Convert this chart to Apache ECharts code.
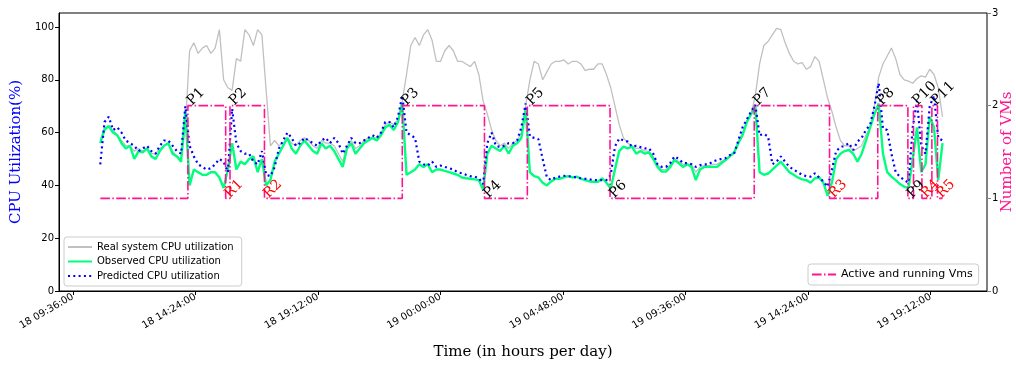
<!DOCTYPE html>
<html>
<head>
<meta charset="utf-8">
<script src="https://cdn.jsdelivr.net/npm/echarts@6/dist/echarts.min.js"></script>
<style>html,body{margin:0;padding:0;background:#fff}#chart{width:1016px;height:365px}</style>
</head>
<body>
<div id="chart"></div>
<script>
// samples every 10 minutes, starting 18th 10:40 (x axis is hours since 18th 00:00)
var start_hour = 10 + 40 / 60;
var step_hour = 10 / 60;

var real_cpu = [
	57, 62, 62, 61, 59, 57, 55, 55, 53, 54,
	53, 54, 52, 52, 54, 55, 56, 53, 51, 50,
	62, 91, 94, 90, 92, 93, 90, 92, 99, 80,
	77, 76, 88, 87, 99, 97, 93, 99, 97, 76,
	55, 57, 55, 56, 58, 56, 55, 57, 58, 57,
	55, 54, 57, 56, 56, 55, 52, 49, 55, 57,
	54, 55, 57, 58, 58, 58, 60, 63, 64, 63,
	65, 72, 82, 93, 96, 93, 97, 99, 95, 87,
	87, 91, 93, 91, 87, 87, 86, 85, 87, 82,
	72, 67, 61, 57, 55, 56, 54, 56, 57, 60,
	70, 80, 87, 86, 80, 83, 86, 87, 87, 87.5,
	86, 87, 87, 86, 83.5, 84, 84, 86, 86, 82,
	77, 70, 63, 58, 56, 55, 54, 54, 53, 53,
	51, 48, 46, 46, 48, 50, 49, 48, 48, 48,
	45, 47, 47.5, 47.5, 48, 48, 49, 50, 51, 52,
	56.5, 60, 64.5, 67, 74, 86, 93, 94.5, 97, 99.5,
	99, 94, 90, 87, 86, 86.5, 84, 85, 88.8, 87,
	80, 73, 68, 62, 57, 55, 55, 53, 54, 55,
	59, 62, 70, 81, 86, 89, 92, 88, 82, 80,
	79.5, 78.7, 80.5, 81.5, 81, 84, 82, 77, 66
];
var observed_cpu = [
	56, 61, 62.5, 60, 59, 56, 54, 55, 50, 53,
	52.5, 54, 51, 50, 53, 55, 56, 52, 51, 49,
	68, 40, 46, 45, 44, 44, 45, 45, 43, 39,
	46, 56, 46, 49, 48, 50, 51, 45, 50, 40,
	42, 49, 52, 55, 58, 54, 52, 55, 57, 55,
	53, 52, 56, 54, 55, 53, 50, 47, 54, 56,
	52, 54, 56, 57, 58, 57, 59, 62, 63, 61,
	64, 71, 44, 45, 46, 48, 47, 48, 45, 46,
	46, 45.5, 45, 44.5, 44, 43, 42.7, 42.5, 42.3, 42,
	38.3, 52, 55, 54, 53, 55, 52, 55, 56, 58,
	69, 45, 43.5, 43, 41, 40, 41.5, 42.5, 42.5, 43,
	43.5, 43, 43.3, 42.5, 42, 41.5, 41.4, 41.4, 42.7, 41,
	38.8, 46, 53, 54.7, 54, 54.7, 52, 53, 52, 52.5,
	50, 47, 45.2, 45.2, 47, 49.6, 48.4, 47, 48, 47,
	42, 46, 47, 47, 47, 47, 48.4, 49.6, 51, 52.5,
	56, 59, 64, 67, 70, 45, 44, 44.5, 46, 47.5,
	49, 47, 45, 44, 43, 42.3, 42, 41, 42.7, 43,
	41, 36, 41, 50, 52, 53, 53.4, 52, 49, 52,
	57, 62, 67, 71, 52, 45, 43.3, 42, 40.5, 39.5,
	39, 50, 62, 45, 48, 66, 62, 42, 56
];
var predicted_cpu = [
	48, 64, 66, 61, 62, 60, 57, 56, 55, 53,
	54, 55, 53, 52, 55, 57, 57, 55, 53, 52,
	70, 55, 51, 48, 47, 46, 46.5, 48, 50, 49,
	45, 69, 56, 53, 52, 52, 49, 48, 53, 44,
	43.5, 47, 54, 57, 60, 58, 55, 56, 58, 57,
	56, 55, 57, 58, 56, 58, 56, 52, 55, 58,
	56, 56, 57, 58, 59, 58, 60, 64, 64, 62,
	66, 74, 60, 59, 58, 49, 48, 47.5, 49, 47,
	47.5, 47, 46.5, 46, 45, 44.6, 44, 43.5, 43.3, 42.7,
	40.5, 56, 60, 55, 54.5, 55, 56, 56, 57, 62,
	71, 58.5, 58, 57.5, 50, 43, 42, 43, 43.3, 43.6,
	43.5, 43.3, 43, 42.7, 42.5, 42.3, 42, 42, 42, 42,
	44, 54.7, 57.8, 57, 56.6, 54.7, 55, 54.5, 54, 54,
	52, 48, 47, 47, 48.5, 51, 50, 48.5, 48.4, 48,
	47, 47.7, 48, 48, 49, 49.6, 50, 50.3, 51.5, 52,
	57, 62, 65, 68, 70.5, 59, 59.5, 58.5, 48, 49,
	51, 49, 47, 46, 45, 44, 43.5, 43.3, 44.6, 43,
	41.5, 39.5, 46, 53, 54.5, 55, 56, 53.4, 56.6, 58,
	61, 63, 70, 78.7, 61.5, 61, 52, 45, 43.3, 42,
	41, 62, 72, 55, 52, 70, 74, 58, 57
];

// active VMs: value holds from each time until the next one
var vm_times = [10.67, 14.10, 15.58, 15.75, 17.10, 22.50, 25.72, 27.40, 30.64, 36.29, 39.24, 41.13, 42.31, 42.53, 42.86, 43.25, 43.47, 43.67];
var vm_counts = [1, 2, 1, 2, 1, 2, 1, 2, 1, 2, 1, 2, 1, 2, 1, 2, 1, 1];

var mark_names = ['P1', 'R1', 'P2', 'R2', 'P3', 'P4', 'P5', 'P6', 'P7', 'R3', 'P8', 'P9', 'P10', 'R4', 'P11', 'R5'];
var mark_times = [14.10, 15.58, 15.75, 17.10, 22.50, 25.72, 27.40, 30.64, 36.29, 39.24, 41.13, 42.31, 42.53, 42.86, 43.25, 43.47];
var mark_levels = [2, 1, 2, 1, 2, 1, 2, 1, 2, 1, 2, 1, 2, 1, 2, 1];

var tick_hours = [9.6, 14.4, 19.2, 24, 28.8, 33.6, 38.4, 43.2];
var tick_labels = ['18 09:36:00', '18 14:24:00', '18 19:12:00', '19 00:00:00', '19 04:48:00', '19 09:36:00', '19 14:24:00', '19 19:12:00'];

function toPairs(values) {
	var out = [];
	for (var i = 0; i < values.length; i++) {
		out.push([start_hour + i * step_hour, values[i]]);
	}
	return out;
}

var vm_data = [];
for (var i = 0; i < vm_times.length; i++) {
	vm_data.push([vm_times[i], vm_counts[i]]);
}

var mark_data = [];
for (var i = 0; i < mark_names.length; i++) {
	var isR = mark_names[i].charAt(0) === 'R';
	mark_data.push({
		name: mark_names[i],
		coord: [mark_times[i], mark_levels[i]],
		label: { color: isR ? '#ff0000' : '#000000' }
	});
}

var serif = 'DejaVu Serif';
var sans = 'DejaVu Sans';
var noSymbol = { color: 'rgba(0,0,0,0)', borderWidth: 0, opacity: 0 };

var mycharts = echarts.init(document.getElementById('chart'));
var option = {
	animation: false,
	backgroundColor: '#fff',
	grid: {
		left: 59, right: 29, top: 13, bottom: 74,
		containLabel: false,
		outerBoundsMode: 'none',
		show: true, borderColor: '#000', borderWidth: 1
	},
	legend: [{
		orient: 'vertical',
		left: 64, top: 237,
		itemWidth: 24, itemHeight: 10, itemGap: 4.5,
		padding: [5, 8, 5, 3],
		borderColor: '#cccccc', borderWidth: 1, borderRadius: 3,
		backgroundColor: '#fff',
		itemStyle: noSymbol,
		textStyle: { fontFamily: sans, fontSize: 10, color: '#000' },
		data: ['Real system CPU utilization', 'Observed CPU utilization', 'Predicted CPU utilization']
	}, {
		orient: 'vertical',
		left: 808, top: 264,
		itemWidth: 24, itemHeight: 10,
		padding: [5, 6, 5, 3],
		borderColor: '#cccccc', borderWidth: 1, borderRadius: 3,
		backgroundColor: '#fff',
		itemStyle: noSymbol,
		textStyle: { fontFamily: sans, fontSize: 11, color: '#000' },
		data: ['Active and running Vms']
	}],
	xAxis: {
		type: 'value',
		min: 9.05,
		max: 45.41,
		name: 'Time (in hours per day)',
		nameLocation: 'middle',
		nameGap: 54,
		nameTextStyle: { fontFamily: serif, fontSize: 15, color: '#000' },
		axisLine: { lineStyle: { color: '#000' } },
		axisTick: { customValues: tick_hours, length: 4, lineStyle: { color: '#000' } },
		axisLabel: {
			customValues: tick_hours,
			rotate: 30,
			margin: 5,
			fontFamily: sans, fontSize: 10, color: '#000',
			formatter: function (v) {
				for (var k = 0; k < tick_hours.length; k++) {
					if (Math.abs(v - tick_hours[k]) < 1e-6) return tick_labels[k];
				}
				return '';
			}
		},
		splitLine: { show: false }
	},
	yAxis: [{
		type: 'value',
		min: 0, max: 105.3, interval: 20,
		name: 'CPU Utilization(%)',
		nameLocation: 'middle',
		nameRotate: 90,
		nameGap: 34,
		nameTextStyle: { fontFamily: serif, fontSize: 15, color: '#0000ff' },
		axisLine: { show: true, lineStyle: { color: '#000' } },
		axisTick: { show: true, length: 4, lineStyle: { color: '#000' } },
		axisLabel: { showMaxLabel: false, fontFamily: sans, fontSize: 10, color: '#000', margin: 5 },
		splitLine: { show: false }
	}, {
		type: 'value',
		min: 0, max: 3, interval: 1,
		position: 'right',
		name: 'Number of VMs',
		nameLocation: 'middle',
		nameRotate: 90,
		nameGap: 13,
		nameMoveOverlap: false,
		nameTextStyle: { fontFamily: serif, fontSize: 15, color: '#ff1493' },
		axisLine: { show: true, lineStyle: { color: '#808080' } },
		axisTick: { show: true, length: 4, lineStyle: { color: '#808080' } },
		axisLabel: { fontFamily: sans, fontSize: 10, color: '#000', margin: 5 },
		splitLine: { show: false }
	}],
	series: [{
		name: 'Real system CPU utilization',
		type: 'line',
		symbol: 'none',
		lineStyle: { color: '#c0c0c0', width: 1.3 },
		itemStyle: { color: '#c0c0c0' },
		data: toPairs(real_cpu)
	}, {
		name: 'Observed CPU utilization',
		type: 'line',
		symbol: 'none',
		lineStyle: { color: '#00ff7f', width: 2.4 },
		itemStyle: { color: '#00ff7f' },
		data: toPairs(observed_cpu)
	}, {
		name: 'Predicted CPU utilization',
		type: 'line',
		symbol: 'none',
		lineStyle: { color: '#0000ff', width: 2.2, type: [2, 3.3] },
		itemStyle: { color: '#0000ff' },
		data: toPairs(predicted_cpu)
	}, {
		name: 'Active and running Vms',
		type: 'line',
		yAxisIndex: 1,
		step: 'end',
		symbol: 'none',
		lineStyle: { color: '#ff1493', width: 1.6, type: [9.6, 2.4, 1.5, 2.4] },
		itemStyle: { color: '#ff1493' },
		data: vm_data,
		markPoint: {
			symbol: 'circle',
			symbolSize: 1,
			itemStyle: { color: 'rgba(0,0,0,0)' },
			label: {
				show: true,
				position: [7, 3],
				align: 'left',
				verticalAlign: 'bottom',
				rotate: 45,
				fontFamily: serif,
				fontSize: 14,
				formatter: '{b}'
			},
			data: mark_data
		}
	}]
};
mycharts.setOption(option);
</script>
</body>
</html>
